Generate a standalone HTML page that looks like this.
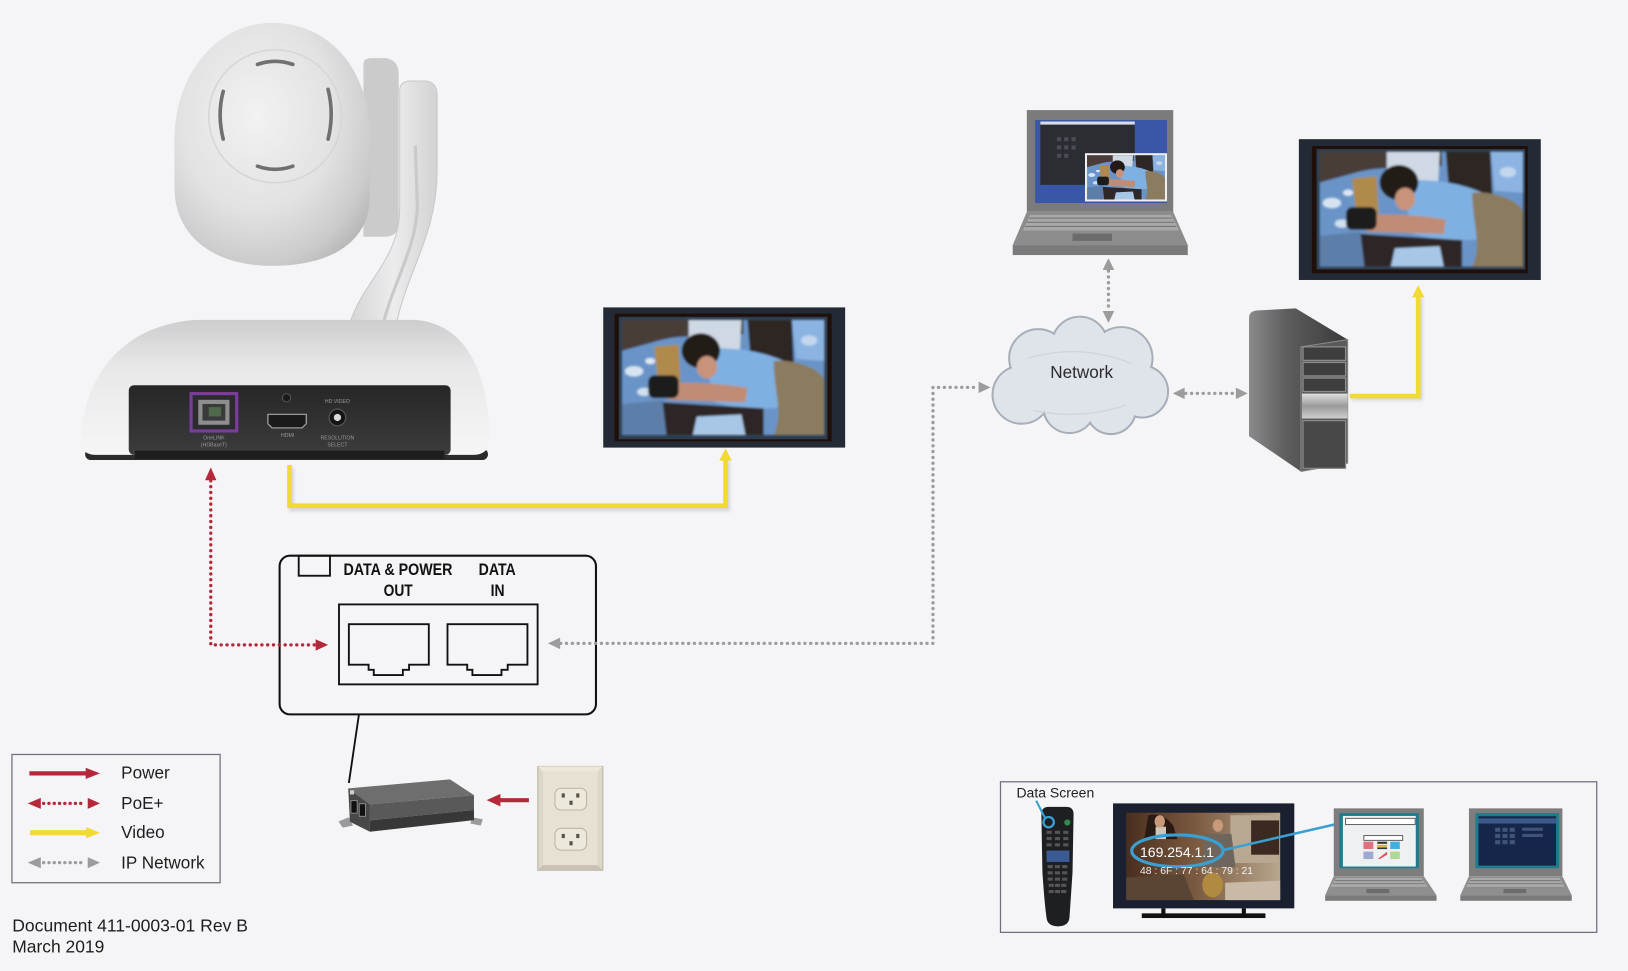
<!DOCTYPE html>
<html><head><meta charset="utf-8">
<style>
html,body{margin:0;padding:0;background:#f5f5f8;overflow:hidden;}
svg{display:block;}
text{font-family:"Liberation Sans",Arial,sans-serif;}
</style></head><body>
<svg width="1628" height="971" viewBox="0 0 1568 935" preserveAspectRatio="none" xmlns="http://www.w3.org/2000/svg">
<defs>
  <radialGradient id="headG" cx="0.42" cy="0.38" r="0.72">
    <stop offset="0" stop-color="#f2f2f2"/><stop offset="0.55" stop-color="#e2e2e2"/><stop offset="0.85" stop-color="#cbcbcb"/><stop offset="1" stop-color="#b6b6b6"/>
  </radialGradient>
  <linearGradient id="baseG" x1="0" y1="0" x2="0" y2="1">
    <stop offset="0" stop-color="#cdcdcd"/><stop offset="0.35" stop-color="#e8e8e8"/><stop offset="1" stop-color="#f6f6f6"/>
  </linearGradient>
  <linearGradient id="armG" x1="0" y1="0" x2="1" y2="0">
    <stop offset="0" stop-color="#d6d6d6"/><stop offset="0.5" stop-color="#ececec"/><stop offset="1" stop-color="#d2d2d2"/>
  </linearGradient>
  <linearGradient id="panelG" x1="0" y1="0" x2="0" y2="1">
    <stop offset="0" stop-color="#262626"/><stop offset="1" stop-color="#3c3c3c"/>
  </linearGradient>
  <linearGradient id="srvSide" x1="0" y1="0" x2="1" y2="0">
    <stop offset="0" stop-color="#8a8a8a"/><stop offset="0.4" stop-color="#5c5c5c"/><stop offset="1" stop-color="#3a3a3a"/>
  </linearGradient>
  <linearGradient id="srvBand" x1="0" y1="0" x2="0" y2="1">
    <stop offset="0" stop-color="#e0e0e0"/><stop offset="0.5" stop-color="#9a9a9a"/><stop offset="1" stop-color="#cfcfcf"/>
  </linearGradient>
  <linearGradient id="sepia" x1="0" y1="0" x2="1" y2="0">
    <stop offset="0" stop-color="#4a2e1e"/><stop offset="0.45" stop-color="#7a5a40"/><stop offset="1" stop-color="#b8a68c"/>
  </linearGradient>
  <filter id="blur1" x="-10%" y="-10%" width="120%" height="120%"><feGaussianBlur stdDeviation="1.6"/></filter>
  <filter id="blur05" x="-5%" y="-5%" width="110%" height="110%"><feGaussianBlur stdDeviation="0.9"/></filter>
  <g id="astro">
    <rect width="200" height="112" fill="#6a94c8"/>
    <path d="M0,0 H120 V14 C90,18 60,12 30,22 L0,30 Z" fill="#4a3c38"/>
    <path d="M66,0 H118 L116,40 C100,44 80,36 66,30 Z" fill="#cfd9e5"/>
    <path d="M124,0 H168 L170,48 C160,60 140,55 128,50 Z" fill="#2e2624"/>
    <path d="M168,0 H200 V40 L172,38 Z" fill="#8cb4e2"/>
    <ellipse cx="12" cy="50" rx="9" ry="5" fill="#d6e4f2"/>
    <ellipse cx="22" cy="70" rx="7" ry="4" fill="#cfe0f0"/>
    <ellipse cx="8" cy="88" rx="6" ry="4" fill="#e2ecf6"/>
    <ellipse cx="28" cy="40" rx="5" ry="3" fill="#dfe8f4"/>
    <ellipse cx="185" cy="20" rx="8" ry="5" fill="#c2d6ee"/>
    <path d="M32,26 L56,24 L58,62 L36,64 Z" fill="#b08a4c"/>
    <path d="M88,28 C120,26 150,34 168,44 L166,84 C140,88 110,86 92,80 L86,56 Z" fill="#7fb0e2"/>
    <path d="M150,40 C175,38 200,50 200,60 V112 H150 C160,90 150,70 150,40 Z" fill="#8b7c5f"/>
    <ellipse cx="78" cy="30" rx="19" ry="17" fill="#231a18"/>
    <ellipse cx="84" cy="46" rx="10" ry="11" fill="#c8937a"/>
    <path d="M44,62 C70,60 100,62 124,66 L122,80 C100,80 70,78 46,78 Z" fill="#c08c74"/>
    <rect x="26" y="54" width="30" height="22" rx="6" fill="#1c1c1c"/>
    <path d="M40,80 C70,82 110,84 140,86 L140,112 H40 Z" fill="#2e2828"/>
    <path d="M74,94 L118,92 L122,112 H70 Z" fill="#a8c6e6"/>
    <path d="M0,82 L40,78 L44,112 H0 Z" fill="#5c7ea8"/>
  </g>
</defs>

<rect x="0" y="0" width="1568" height="935" fill="#f5f5f8"/>

<!-- ================= CAMERA ================= -->
<path d="M385,86 Q386,78 396,78 L410,78 Q421,79 421,92 L421,165 C421,225 392,262 382,311 L337,311 C350,270 385,250 385,200 Z" fill="url(#armG)" stroke="#c8c8c8" stroke-width="1"/>
<path d="M400,140 L402,200 C400,240 380,270 370,308" fill="none" stroke="#c9c9c9" stroke-width="3"/>
<path d="M350,62 Q350,56 358,56 L372,56 Q384,58 384,72 L384,215 Q384,228 370,228 L350,228 Z" fill="#cbcbcb"/>
<path d="M168,135 C168,70 210,22 262,22 C318,22 356,68 356,130 L356,190 C356,232 320,256 262,256 C206,256 168,228 168,180 Z" fill="url(#headG)"/>
<circle cx="265" cy="112" r="64" fill="none" stroke="#d6d6d6" stroke-width="1.5"/>
<path d="M248,62 Q265,56 282,62" fill="none" stroke="#707070" stroke-width="3.5" stroke-linecap="round"/>
<path d="M248,160 Q265,166 282,160" fill="none" stroke="#707070" stroke-width="3.5" stroke-linecap="round"/>
<path d="M215,88 Q209,110 215,134" fill="none" stroke="#707070" stroke-width="3.5" stroke-linecap="round"/>
<path d="M316,86 Q322,110 316,134" fill="none" stroke="#707070" stroke-width="3.5" stroke-linecap="round"/>
<rect x="82" y="432" width="388" height="11" rx="5.5" fill="#2b2b2b"/>
<path d="M78,425 C80,360 120,312 190,308 L400,308 C450,312 470,360 472,422 C472,432 466,438 456,438 L92,438 C82,438 78,432 78,425 Z" fill="url(#baseG)"/>
<rect x="124" y="371" width="310" height="67" rx="5" fill="url(#panelG)"/>
<rect x="130" y="434" width="298" height="8" fill="#1e1e1e"/>
<rect x="184" y="379" width="44" height="36" fill="#2c2c2c" stroke="#7b3d9c" stroke-width="3"/>
<rect x="191" y="385" width="30" height="24" fill="#8e8e8e"/>
<rect x="195" y="389" width="22" height="16" fill="#3a3a3a"/>
<rect x="201" y="392" width="12" height="9" fill="#4f6a4a"/>
<circle cx="276" cy="383" r="4" fill="#1a1a1a" stroke="#555" stroke-width="1"/>
<path d="M258,399 H295 V408 L291,412 H262 L258,408 Z" fill="#1a1a1a" stroke="#9a9a9a" stroke-width="1.3"/>
<circle cx="325" cy="402" r="8" fill="#151515" stroke="#555" stroke-width="1.2"/>
<circle cx="325" cy="402" r="3.5" fill="#d8d8d8"/>
<text x="206" y="423" font-size="5" fill="#9a9a9a" text-anchor="middle">OneLINK</text>
<text x="206" y="430" font-size="5" fill="#9a9a9a" text-anchor="middle">(HDBaseT)</text>
<text x="277" y="421" font-size="5" fill="#9a9a9a" text-anchor="middle">HDMI</text>
<text x="325" y="388" font-size="5" fill="#9a9a9a" text-anchor="middle">HD VIDEO</text>
<text x="325" y="423" font-size="5" fill="#9a9a9a" text-anchor="middle">RESOLUTION</text>
<text x="325" y="430" font-size="5" fill="#9a9a9a" text-anchor="middle">SELECT</text>

<!-- ================= MONITOR 1 ================= -->
<rect x="581" y="296" width="233" height="135" fill="#232a36"/>
<rect x="592" y="302" width="209" height="123" fill="#1e0f08"/>
<rect x="596" y="305" width="201" height="118" fill="#2c3d50"/>
<g filter="url(#blur05)"><use href="#astro" transform="translate(599,308) scale(0.975,0.991)"/></g>

<!-- ================= MONITOR 2 ================= -->
<rect x="1251" y="134" width="233" height="135.6" fill="#232a36"/>
<rect x="1263.5" y="140.6" width="208" height="122.4" fill="#1e0f08"/>
<rect x="1268" y="143.5" width="201" height="116" fill="#2c3d50"/>
<g filter="url(#blur05)"><use href="#astro" transform="translate(1271,146) scale(0.98,0.99)"/></g>

<!-- ================= LAPTOP 1 ================= -->
<rect x="989" y="106" width="141" height="98" fill="#7b7b7b"/>
<rect x="997" y="115.5" width="127" height="80" fill="#3a56a8"/>
<rect x="1002" y="117" width="91" height="61" fill="#2b2d33"/>
<rect x="1002" y="117" width="91" height="3" fill="#d8dbe8"/>
<g fill="#4a4d55">
  <rect x="1018" y="132" width="4" height="4"/><rect x="1025" y="132" width="4" height="4"/><rect x="1032" y="132" width="4" height="4"/>
  <rect x="1018" y="140" width="4" height="4"/><rect x="1025" y="140" width="4" height="4"/><rect x="1032" y="140" width="4" height="4"/>
  <rect x="1018" y="148" width="4" height="4"/><rect x="1025" y="148" width="4" height="4"/>
</g>
<rect x="1045" y="147.5" width="79" height="46.5" fill="#f0f0f0"/>
<use href="#astro" transform="translate(1047,149.5) scale(0.375,0.38)"/>
<path d="M989,204 H1130 L1144,236 H975.4 Z" fill="#8c8c8c"/>
<path d="M992,207 H1128 L1136,222 H985 Z" fill="#a8a8a8"/>
<g stroke="#6f6f6f" stroke-width="1">
  <line x1="991" y1="210" x2="1129" y2="210"/><line x1="989" y1="214" x2="1131" y2="214"/><line x1="987" y1="218" x2="1133" y2="218"/>
</g>
<rect x="1033" y="225" width="38" height="7" fill="#6c6c6c"/>
<rect x="975.4" y="236" width="168.6" height="9.6" fill="#7a7a7a"/>

<!-- ================= CLOUD ================= -->
<g stroke="#a8aeb9" stroke-width="2" fill="#dfe3ea">
  <circle cx="1000" cy="345" r="28"/><circle cx="1040" cy="332" r="27"/><circle cx="1080" cy="345" r="30"/>
  <circle cx="1100" cy="377" r="25"/><circle cx="1070" cy="394" r="24"/><circle cx="1030" cy="392" r="25"/>
  <circle cx="984" cy="380" r="28"/>
</g>
<g fill="#dfe3ea">
  <circle cx="1000" cy="345" r="27"/><circle cx="1040" cy="332" r="26"/><circle cx="1080" cy="345" r="29"/>
  <circle cx="1100" cy="377" r="24"/><circle cx="1070" cy="394" r="23"/><circle cx="1030" cy="392" r="24"/>
  <circle cx="984" cy="380" r="27"/><circle cx="1040" cy="366" r="40"/>
</g>
<g fill="none" stroke="#cfd4dd" stroke-width="1.2">
  <path d="M990,345 Q1040,330 1090,350"/><path d="M995,395 Q1040,405 1085,390"/>
</g>
<text x="1041.8" y="364" font-size="16.5" fill="#2a2a2a" text-anchor="middle">Network</text>

<!-- ================= SERVER ================= -->
<path d="M1203,306 Q1203,300 1210,299 L1248,297 L1298,327 L1253,334 L1253,454 L1203,420 Z" fill="url(#srvSide)"/>
<path d="M1253,334 L1298,327 L1298,446 L1253,454 Z" fill="#5a5a5a" stroke="#8a8a8a" stroke-width="1"/>
<rect x="1255" y="334" width="41" height="13" fill="#3e3e3e" stroke="#8e8e8e" stroke-width="1.2"/>
<rect x="1255" y="349" width="41" height="13" fill="#3e3e3e" stroke="#8e8e8e" stroke-width="1.2"/>
<rect x="1255" y="364" width="41" height="13" fill="#3e3e3e" stroke="#8e8e8e" stroke-width="1.2"/>
<rect x="1254" y="379" width="44" height="24" fill="url(#srvBand)"/>
<rect x="1255" y="405" width="41" height="46" fill="#484848" stroke="#8a8a8a" stroke-width="1.2"/>

<!-- ================= PoE BOX ================= -->
<rect x="269.3" y="535.1" width="304.7" height="152.8" rx="10" fill="none" stroke="#111" stroke-width="2"/>
<rect x="287.7" y="535.1" width="30.1" height="19.3" fill="none" stroke="#111" stroke-width="1.8"/>
<text x="330.8" y="553.7" font-size="16" font-weight="bold" fill="#111" textLength="105" lengthAdjust="spacingAndGlyphs">DATA &amp; POWER</text>
<text x="369.5" y="574" font-size="16" font-weight="bold" fill="#111" textLength="28" lengthAdjust="spacingAndGlyphs">OUT</text>
<text x="461" y="553.7" font-size="16" font-weight="bold" fill="#111" textLength="35.7" lengthAdjust="spacingAndGlyphs">DATA</text>
<text x="472.6" y="574" font-size="16" font-weight="bold" fill="#111" textLength="13.4" lengthAdjust="spacingAndGlyphs">IN</text>
<rect x="326.5" y="582" width="191.3" height="77" fill="none" stroke="#111" stroke-width="1.8"/>
<path d="M336,601 H413 V640 H394 V645 H388 V650 H360 V645 H355 V640 H336 Z" fill="none" stroke="#111" stroke-width="1.8"/>
<path d="M431,601 H508 V640 H489 V645 H483 V650 H455 V645 H450 V640 H431 Z" fill="none" stroke="#111" stroke-width="1.8"/>
<line x1="345.7" y1="688" x2="336" y2="754" stroke="#111" stroke-width="1.8"/>

<!-- ================= INJECTOR ================= -->
<path d="M326,791 L336,787 L340,795 L330,797 Z" fill="#9a9a9a"/>
<path d="M455,787 L465,789 L463,795 L453,793 Z" fill="#9a9a9a"/>
<path d="M335.4,759.1 L433.4,750.5 L456.5,765.6 L356.3,774.6 Z" fill="#6e6e6e"/>
<path d="M356.3,774.6 L456.5,765.6 L456.5,780 L356.3,790 Z" fill="#595959"/>
<path d="M356.3,790 L456.5,780 L456.5,789.7 L356.3,800.9 Z" fill="#383838"/>
<path d="M335.4,759.1 L356.3,774.6 L356.3,800.9 L337,791.3 Z" fill="#484848"/>
<rect x="338" y="771" width="6" height="12" fill="#111" stroke="#999" stroke-width="0.8"/>
<rect x="346" y="774" width="6" height="12" fill="#111" stroke="#999" stroke-width="0.8"/>
<rect x="337" y="761" width="4" height="4" fill="#cfcfcf"/>

<!-- ================= OUTLET ================= -->
<rect x="518" y="738" width="62.6" height="100" fill="#ddd7c7" stroke="#b8b2a2" stroke-width="1"/>
<path d="M518,738 L523,743 L575.6,743 L580.6,738 Z" fill="#ece8dc"/>
<path d="M518,838 L523,833 L575.6,833 L580.6,838 Z" fill="#c8c2b2"/>
<rect x="523" y="743" width="52.6" height="90" fill="#e6e1d3"/>
<rect x="534.5" y="759" width="30.5" height="21" rx="6" fill="#ece8dc" stroke="#b9b3a3" stroke-width="1"/>
<rect x="534.5" y="797.6" width="30.5" height="21" rx="6" fill="#ece8dc" stroke="#b9b3a3" stroke-width="1"/>
<g fill="#55524a">
  <rect x="541" y="764" width="3" height="4"/><rect x="555" y="764" width="3" height="4"/><rect x="548.5" y="771" width="3" height="4"/>
  <rect x="541" y="803" width="3" height="4"/><rect x="555" y="803" width="3" height="4"/><rect x="548.5" y="810" width="3" height="4"/>
</g>

<!-- ================= CONNECTORS ================= -->
<polyline points="280.8,450 280.8,490 700.8,490 700.8,444" fill="none" stroke="#999" stroke-width="4.5" opacity="0.35" filter="url(#blur1)"/>
<polyline points="278.8,447.8 278.8,487 698.8,487 698.8,442" fill="none" stroke="#f1da34" stroke-width="4.5" stroke-linejoin="miter"/>
<polygon points="698.8,431.7 692.8,443.5 704.8,443.5" fill="#f1da34"/>
<polyline points="1302,383.4 1368,383.4 1368,287" fill="none" stroke="#999" stroke-width="4.5" opacity="0.35" filter="url(#blur1)"/>
<polyline points="1300,381.4 1366,381.4 1366,285" fill="none" stroke="#f1da34" stroke-width="4.5"/>
<polygon points="1366,274.5 1360,286.5 1372,286.5" fill="#f1da34"/>
<polyline points="203,463 203,621 304,621" fill="none" stroke="#b5283a" stroke-width="3.2" stroke-dasharray="0.1 5.5" stroke-linecap="round"/>
<polygon points="203,450 197.5,462.5 208.5,462.5" fill="#b5283a"/>
<polygon points="316,621 304,615.5 304,626.5" fill="#b5283a"/>
<polyline points="540,619.5 898.6,619.5 898.6,373 942,373" fill="none" stroke="#9c9c9c" stroke-width="3.2" stroke-dasharray="0.1 5.5" stroke-linecap="round"/>
<polygon points="527.7,619.5 539.5,614 539.5,625" fill="#9c9c9c"/>
<polygon points="954,373 942.5,367.5 942.5,378.5" fill="#9c9c9c"/>
<line x1="1067.6" y1="261" x2="1067.6" y2="299" stroke="#9c9c9c" stroke-width="3.2" stroke-dasharray="0.1 5.5" stroke-linecap="round"/>
<polygon points="1067.6,248.5 1062,260 1073.2,260" fill="#9c9c9c"/>
<polygon points="1067.6,311 1062,299.5 1073.2,299.5" fill="#9c9c9c"/>
<line x1="1142" y1="378.8" x2="1190" y2="378.8" stroke="#9c9c9c" stroke-width="3.2" stroke-dasharray="0.1 5.5" stroke-linecap="round"/>
<polygon points="1129.5,378.8 1141,373.3 1141,384.3" fill="#9c9c9c"/>
<polygon points="1201.8,378.8 1190.3,373.3 1190.3,384.3" fill="#9c9c9c"/>
<line x1="509.4" y1="770.5" x2="481" y2="770.5" stroke="#b5283a" stroke-width="4"/>
<polygon points="468.7,770.5 482,764.5 482,776.5" fill="#b5283a"/>

<!-- ================= LEGEND ================= -->
<rect x="11.5" y="726.5" width="200.5" height="123.5" fill="none" stroke="#6e6e7c" stroke-width="1.2"/>
<line x1="28.3" y1="744.7" x2="84" y2="744.7" stroke="#b5283a" stroke-width="4"/>
<polygon points="96.3,744.7 82.5,739.3 82.5,750.1" fill="#b5283a"/>
<text x="116.7" y="749.5" font-size="16.5" fill="#1e1e1e">Power</text>
<line x1="42" y1="773.6" x2="82" y2="773.6" stroke="#b5283a" stroke-width="3.2" stroke-dasharray="0.1 5" stroke-linecap="round"/>
<polygon points="26.7,773.6 39.3,768.3 39.3,778.9" fill="#b5283a"/>
<polygon points="96.3,773.6 84.5,768.3 84.5,778.9" fill="#b5283a"/>
<text x="116.7" y="779" font-size="16.5" fill="#1e1e1e">PoE+</text>
<line x1="31" y1="804" x2="86" y2="804" stroke="#999" stroke-width="5" opacity="0.35" filter="url(#blur1)"/>
<line x1="29" y1="801.9" x2="84" y2="801.9" stroke="#f1da34" stroke-width="5"/>
<polygon points="96.3,801.9 83,796.5 83,807.3" fill="#f1da34"/>
<text x="116.7" y="806.7" font-size="16.5" fill="#1e1e1e">Video</text>
<line x1="42" y1="830.7" x2="82" y2="830.7" stroke="#9c9c9c" stroke-width="3.2" stroke-dasharray="0.1 5" stroke-linecap="round"/>
<polygon points="26.7,830.7 39.3,825.4 39.3,836" fill="#9c9c9c"/>
<polygon points="96.3,830.7 84.5,825.4 84.5,836" fill="#9c9c9c"/>
<text x="116.7" y="836.2" font-size="16.5" fill="#1e1e1e">IP Network</text>

<text x="11.8" y="897" font-size="16.8" fill="#1e1e1e" textLength="227" lengthAdjust="spacingAndGlyphs">Document 411-0003-01 Rev B</text>
<text x="11.8" y="917.4" font-size="16.8" fill="#1e1e1e">March 2019</text>

<!-- ================= DATA SCREEN PANEL ================= -->
<rect x="963.6" y="752.8" width="574.3" height="145" fill="none" stroke="#6e6e7c" stroke-width="1.2"/>
<text x="979" y="768" font-size="13.5" fill="#1e1e1e">Data Screen</text>
<path d="M1003,784 Q1003,777 1010,777 L1027,777 Q1034,777 1034,784 L1033,840 Q1031,870 1030,884 Q1029,892 1019,892 Q1009,892 1008,884 Q1006,870 1004,840 Z" fill="#1e1f22"/>
<g fill="#555">
  <rect x="1008" y="800" width="5" height="3"/><rect x="1016" y="800" width="5" height="3"/><rect x="1024" y="800" width="5" height="3"/>
  <rect x="1008" y="806" width="5" height="3"/><rect x="1016" y="806" width="5" height="3"/><rect x="1024" y="806" width="5" height="3"/>
  <rect x="1008" y="812" width="5" height="3"/><rect x="1016" y="812" width="5" height="3"/><rect x="1024" y="812" width="5" height="3"/>
  <rect x="1009" y="833" width="5" height="3"/><rect x="1016" y="833" width="5" height="3"/><rect x="1023" y="833" width="5" height="3"/>
  <rect x="1009" y="839" width="5" height="3"/><rect x="1016" y="839" width="5" height="3"/><rect x="1023" y="839" width="5" height="3"/>
  <rect x="1009" y="845" width="5" height="3"/><rect x="1016" y="845" width="5" height="3"/><rect x="1023" y="845" width="5" height="3"/>
  <rect x="1010" y="851" width="5" height="3"/><rect x="1016" y="851" width="5" height="3"/><rect x="1022" y="851" width="5" height="3"/>
  <rect x="1010" y="857" width="5" height="3"/><rect x="1016" y="857" width="5" height="3"/><rect x="1022" y="857" width="5" height="3"/>
</g>
<rect x="1008" y="819" width="22" height="11" fill="#3c5a94"/>
<circle cx="1028" cy="792" r="3" fill="#2f8a4a"/>
<circle cx="1010" cy="791.7" r="5" fill="none" stroke="#3aa0d2" stroke-width="2.2"/>
<line x1="998" y1="771" x2="1006.7" y2="788" stroke="#3aa0d2" stroke-width="2"/>
<!-- tv -->
<rect x="1072" y="773.6" width="174.6" height="101.1" fill="#1b2030"/>
<rect x="1084.7" y="782.6" width="148.3" height="84.1" fill="url(#sepia)"/>
<rect x="1185" y="785" width="46" height="46" fill="#b8a892"/>
<rect x="1205" y="790" width="27" height="33" fill="#3a2a22"/>
<path d="M1106,785 Q1120,782 1130,795 L1134,808 L1102,808 Z" fill="#2a1a14"/>
<rect x="1113" y="796" width="10" height="12" fill="#d0c6b6"/>
<ellipse cx="1117" cy="791" rx="5" ry="6" fill="#c89a7a"/>
<ellipse cx="1173" cy="795" rx="5" ry="6" fill="#c89a7a"/>
<path d="M1160,803 L1186,803 L1190,835 L1158,835 Z" fill="#6e665c"/>
<ellipse cx="1168" cy="852" rx="10" ry="12" fill="#b08a40"/>
<path d="M1084.7,845 L1140,842 L1150,866.7 L1084.7,866.7 Z" fill="#5a4434"/>
<path d="M1180,850 L1233,848 L1233,866.7 L1180,866.7 Z" fill="#c8baa6"/>
<ellipse cx="1134" cy="819.3" rx="44" ry="15.3" fill="none" stroke="#3aa0d2" stroke-width="3"/>
<text x="1098" y="825" font-size="13.5" fill="#ffffff">169.254.1.1</text>
<text x="1098" y="841.7" font-size="10" fill="#f0f0f0">48 : 6F : 77 : 64 : 79 : 21</text>
<rect x="1118.5" y="874.7" width="4" height="5" fill="#111"/>
<rect x="1196" y="874.7" width="4" height="5" fill="#111"/>
<rect x="1099.7" y="879.5" width="119.1" height="4.5" fill="#111"/>
<line x1="1178" y1="818.6" x2="1303.7" y2="789.7" stroke="#3aa0d2" stroke-width="2.4"/>
<!-- laptop A -->
<rect x="1284.6" y="778.4" width="86.7" height="65.2" fill="#7d7d7d"/>
<rect x="1290" y="783" width="76.6" height="53" fill="#1f7c8c"/>
<rect x="1293.4" y="785.7" width="70.2" height="48.7" fill="#eef0f2"/>
<rect x="1296" y="788" width="67" height="6" fill="#fff" stroke="#555" stroke-width="0.9"/>
<rect x="1313.6" y="804.6" width="37.4" height="4.6" fill="#fff" stroke="#555" stroke-width="0.9"/>
<rect x="1313.2" y="810.5" width="9.5" height="7" fill="#e07080"/>
<rect x="1326.5" y="810.5" width="9.5" height="2" fill="#333"/><rect x="1326.5" y="813.5" width="9.5" height="2" fill="#e0b040"/><rect x="1326.5" y="816" width="9.5" height="1.6" fill="#333"/>
<rect x="1339" y="810.5" width="9.2" height="7" fill="#40b0e0"/>
<rect x="1313.2" y="820" width="9.5" height="7.2" fill="#a0a8d0"/>
<path d="M1327,827 L1336,820 L1336,823 L1329,827.2 Z" fill="#e05060"/>
<rect x="1339" y="820" width="9.2" height="7.2" fill="#b0d890"/>
<path d="M1284.6,843.6 H1371.3 L1383.6,862 H1276.3 Z" fill="#8e8e8e"/>
<path d="M1287,845.5 H1369 L1375,854 H1281 Z" fill="#a9a9a9"/>
<g stroke="#6f6f6f" stroke-width="0.8"><line x1="1286" y1="848" x2="1370" y2="848"/><line x1="1284" y1="851" x2="1372" y2="851"/></g>
<rect x="1316" y="856" width="22" height="4" fill="#6c6c6c"/>
<rect x="1276.3" y="862" width="107.3" height="5.4" fill="#7a7a7a"/>
<!-- laptop B -->
<rect x="1414.8" y="778.4" width="90" height="65.2" fill="#7d7d7d"/>
<rect x="1421" y="783" width="80.7" height="53" fill="#1f7c8c"/>
<rect x="1424" y="786" width="74.7" height="47.5" fill="#15264a"/>
<rect x="1424" y="788" width="74.7" height="5" fill="#3a5a8a"/>
<g fill="#3f5478">
  <rect x="1440" y="797" width="5" height="4"/><rect x="1447" y="797" width="5" height="4"/><rect x="1454" y="797" width="5" height="4"/>
  <rect x="1440" y="803" width="5" height="4"/><rect x="1447" y="803" width="5" height="4"/><rect x="1454" y="803" width="5" height="4"/>
  <rect x="1440" y="809" width="5" height="4"/><rect x="1447" y="809" width="5" height="4"/><rect x="1454" y="809" width="5" height="4"/>
  <rect x="1466" y="797" width="20" height="3"/><rect x="1466" y="803" width="20" height="3"/>
</g>
<path d="M1414.8,843.6 H1504.8 L1513.8,862 H1406.5 Z" fill="#8e8e8e"/>
<path d="M1417,845.5 H1502 L1507,854 H1412 Z" fill="#a9a9a9"/>
<g stroke="#6f6f6f" stroke-width="0.8"><line x1="1416" y1="848" x2="1503" y2="848"/><line x1="1414" y1="851" x2="1505" y2="851"/></g>
<rect x="1448" y="856" width="22" height="4" fill="#6c6c6c"/>
<rect x="1406.5" y="862" width="107.3" height="5.4" fill="#7a7a7a"/>
</svg>
</body></html>
